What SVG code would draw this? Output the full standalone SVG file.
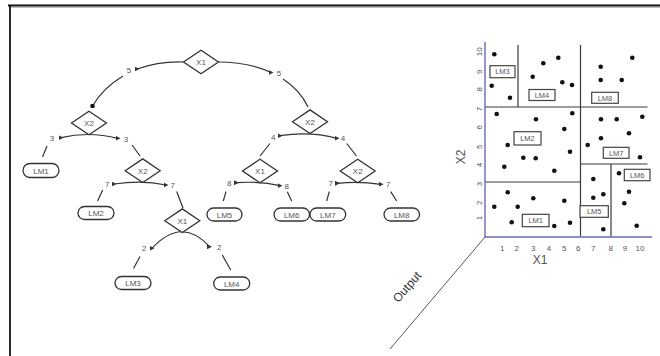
<svg xmlns="http://www.w3.org/2000/svg" width="660" height="356" viewBox="0 0 660 356">
<style>
.t{font-family:"Liberation Sans",Arial,sans-serif;fill:#555;text-anchor:middle}
.s8{font-size:8px}
.s7{font-size:7.5px}
.dia{fill:#fff;stroke:#333;stroke-width:1.3}
.leaf{fill:#fff;stroke:#333;stroke-width:1.3}
.conn{fill:none;stroke:#333;stroke-width:1.2}
.grid{fill:none;stroke:#3a3a3a;stroke-width:1.2}
.axis{fill:none;stroke:#6a6ab4;stroke-width:1.4}
.dot{fill:#111}
.lbox{fill:#fff;stroke:#444;stroke-width:1.2}
</style>
<defs>
<marker id="ar" viewBox="0 0 6 6" refX="3" refY="3" markerWidth="5" markerHeight="5" markerUnits="userSpaceOnUse" orient="0"><path d="M0,0 L6,3 L0,6 z" fill="#333"/></marker>
<marker id="dt" viewBox="0 0 6 6" refX="3" refY="3" markerWidth="4.5" markerHeight="4.5" markerUnits="userSpaceOnUse" orient="0"><circle cx="3" cy="3" r="3" fill="#111"/></marker>
<polygon id="dmd" points="-17.5,0 0,-11.8 17.5,0 0,11.8"/>
</defs>
<rect width="660" height="356" fill="#fff"/>
<g id="frame"><path d="M8,5.5 H660 M10,5 V356" fill="none" stroke="#111" stroke-width="1.8"/><path d="M11,7.5 H660" stroke="#bbb" stroke-width="1"/></g>

<g id="connectors">
<path class="conn" d="M183.5,62 Q160,61 137,69" marker-end="url(#ar)"/>
<path class="conn" d="M123,76 Q103,88 92.5,106" marker-end="url(#dt)"/>
<path class="conn" d="M218.5,62 Q248,62 271,72.5" marker-end="url(#ar)"/>
<path class="conn" d="M283,79 Q300,90 308,107"/>
<path class="conn" d="M61,137.7 Q89,131 118,138.3" marker-start="url(#ar)" marker-end="url(#ar)"/>
<path class="conn" d="M47,146 L42.5,157 M132,145 L140,156"/>
<path class="conn" d="M114,184 Q142.7,180 166,185" marker-start="url(#ar)" marker-end="url(#ar)"/>
<path class="conn" d="M102.7,190 L97.5,201 M176.7,191.5 L183,208"/>
<path class="conn" d="M152,248.3 Q182,216 209.5,246.7" marker-start="url(#ar)" marker-end="url(#ar)"/>
<path class="conn" d="M140,256.5 L133.5,268.5 M222.3,255 L230.7,270"/>
<path class="conn" d="M280,135.7 Q310,131 337,138.3" marker-start="url(#ar)" marker-end="url(#ar)"/>
<path class="conn" d="M270,143.5 L260,156 M346.7,143.5 L356.5,156"/>
<path class="conn" d="M236.5,182.7 Q260,181 280,185.7" marker-start="url(#ar)" marker-end="url(#ar)"/>
<path class="conn" d="M226,191.7 L223.3,201 M287.3,191.7 L291.7,201"/>
<path class="conn" d="M337.5,183.3 Q358,181 381,184.3" marker-start="url(#ar)" marker-end="url(#ar)"/>
<path class="conn" d="M329.3,191.7 L326.7,201 M390.7,191.7 L396.7,201"/>
</g>

<g id="edge-labels" class="t s8">
<text x="129" y="72.5">5</text><text x="279" y="76">5</text>
<text x="52" y="141.3">3</text><text x="126" y="141.7">3</text>
<text x="107.3" y="187">7</text><text x="172.7" y="188">7</text>
<text x="144.3" y="251.3">2</text><text x="219.3" y="249.7">2</text>
<text x="273.3" y="139.5">4</text><text x="343" y="141.3">4</text>
<text x="229.3" y="186.3">8</text><text x="286.7" y="188.7">8</text>
<text x="330.7" y="186.3">7</text><text x="388.3" y="187.3">7</text>
</g>

<g id="n-root"><use href="#dmd" class="dia" transform="translate(201,62)"/><text class="t s8" x="201" y="65">X1</text></g>
<g id="n-x2a"><use href="#dmd" class="dia" transform="translate(89,123)"/><text class="t s8" x="89" y="126">X2</text></g>
<g id="n-x2b"><use href="#dmd" class="dia" transform="translate(142.7,170.7)"/><text class="t s8" x="142.7" y="173.7">X2</text></g>
<g id="n-x1c"><use href="#dmd" class="dia" transform="translate(182.3,220.7)"/><text class="t s8" x="182.3" y="223.7">X1</text></g>
<g id="n-x2d"><use href="#dmd" class="dia" transform="translate(310,121.7)"/><text class="t s8" x="310" y="124.7">X2</text></g>
<g id="n-x1e"><use href="#dmd" class="dia" transform="translate(260,171)"/><text class="t s8" x="260" y="174">X1</text></g>
<g id="n-x2f"><use href="#dmd" class="dia" transform="translate(357.7,171)"/><text class="t s8" x="357.7" y="174">X2</text></g>

<g id="lm1"><rect class="leaf" x="23" y="163.5" width="36" height="14" rx="7"/><text class="t s8" x="41" y="173.5">LM1</text></g>
<g id="lm2"><rect class="leaf" x="78" y="206.5" width="36" height="13" rx="6.5"/><text class="t s8" x="96" y="216">LM2</text></g>
<g id="lm3"><rect class="leaf" x="115" y="276.5" width="36" height="13" rx="6.5"/><text class="t s8" x="133" y="286">LM3</text></g>
<g id="lm4"><rect class="leaf" x="213.7" y="277" width="36" height="13" rx="6.5"/><text class="t s8" x="231.7" y="286.5">LM4</text></g>
<g id="lm5"><rect class="leaf" x="207" y="208" width="35" height="13" rx="6.5"/><text class="t s8" x="224.5" y="217.5">LM5</text></g>
<g id="lm6"><rect class="leaf" x="274" y="208" width="35.5" height="13" rx="6.5"/><text class="t s8" x="291.7" y="217.5">LM6</text></g>
<g id="lm7"><rect class="leaf" x="310" y="208" width="35.7" height="13" rx="6.5"/><text class="t s8" x="327.8" y="217.5">LM7</text></g>
<g id="lm8"><rect class="leaf" x="384" y="208" width="35.5" height="13" rx="6.5"/><text class="t s8" x="401.7" y="217.5">LM8</text></g>

<g id="output">
<path d="M485,237 L390,349" stroke="#555" stroke-width="1" fill="none"/>
<text class="t" style="font-size:12px;fill:#333" transform="translate(407,287) rotate(-49)" y="4">Output</text>
</g>

<g id="plot">
<path class="grid" d="M518,45 V107 M580.5,45 V236.5 M485,107 H647.5 M485,182 H580.5 M580.5,164 H647.5 M611,164 V236.5"/>
<path class="axis" d="M485,42 V237 H652"/>
<g class="t s8">
<text x="502.3" y="251">1</text><text x="516.7" y="251">2</text><text x="533.3" y="251">3</text><text x="549" y="251">4</text><text x="564.3" y="251">5</text><text x="578.3" y="251">6</text><text x="593.3" y="251">7</text><text x="610.7" y="251">8</text><text x="625" y="251">9</text><text x="640" y="251">10</text>
<text transform="translate(482,218) rotate(-90)">1</text>
<text transform="translate(482,202.7) rotate(-90)">2</text>
<text transform="translate(482,184) rotate(-90)">3</text>
<text transform="translate(482,165) rotate(-90)">4</text>
<text transform="translate(482,146.7) rotate(-90)">5</text>
<text transform="translate(482,127.3) rotate(-90)">6</text>
<text transform="translate(482,109) rotate(-90)">7</text>
<text transform="translate(482,89.3) rotate(-90)">8</text>
<text transform="translate(482,71.7) rotate(-90)">9</text>
<text transform="translate(482,51.7) rotate(-90)">10</text>
</g>
<text class="t" style="font-size:12px" x="540" y="263.5">X1</text>
<text class="t" style="font-size:12px" transform="translate(464.5,157) rotate(-90)">X2</text>
<g class="dot">
<circle cx="494.3" cy="54.3" r="2.3"/><circle cx="491.7" cy="85.7" r="2.3"/><circle cx="510" cy="97.7" r="2.3"/><circle cx="558.3" cy="57.7" r="2.3"/><circle cx="543.3" cy="63.3" r="2.3"/><circle cx="532.7" cy="76.7" r="2.3"/><circle cx="562.3" cy="82.3" r="2.3"/><circle cx="572" cy="85" r="2.3"/><circle cx="600.7" cy="66.7" r="2.3"/><circle cx="600.7" cy="80" r="2.3"/><circle cx="621.7" cy="80" r="2.3"/><circle cx="632.3" cy="57.7" r="2.3"/>
<circle cx="496.7" cy="114" r="2.3"/><circle cx="536" cy="119.3" r="2.3"/><circle cx="572.3" cy="113.3" r="2.3"/><circle cx="564.3" cy="129" r="2.3"/><circle cx="507.7" cy="145" r="2.3"/><circle cx="523.3" cy="157.7" r="2.3"/><circle cx="535.7" cy="158.3" r="2.3"/><circle cx="570" cy="151.7" r="2.3"/><circle cx="504.3" cy="166.7" r="2.3"/><circle cx="554.3" cy="170.7" r="2.3"/>
<circle cx="601" cy="119.3" r="2.3"/><circle cx="616.7" cy="119.3" r="2.3"/><circle cx="642.3" cy="116.7" r="2.3"/><circle cx="629" cy="133.3" r="2.3"/><circle cx="601" cy="138.3" r="2.3"/><circle cx="587.7" cy="145" r="2.3"/><circle cx="640" cy="157.3" r="2.3"/>
<circle cx="619" cy="173.3" r="2.3"/><circle cx="629" cy="191.7" r="2.3"/><circle cx="624.3" cy="203.3" r="2.3"/><circle cx="636.7" cy="225.7" r="2.3"/>
<circle cx="593.3" cy="179" r="2.3"/><circle cx="593.3" cy="197.7" r="2.3"/><circle cx="603.3" cy="194.3" r="2.3"/><circle cx="603.3" cy="229.3" r="2.3"/>
<circle cx="507.7" cy="192.3" r="2.3"/><circle cx="494.3" cy="206.7" r="2.3"/><circle cx="517.7" cy="206.7" r="2.3"/><circle cx="533.3" cy="198.3" r="2.3"/><circle cx="564.3" cy="200.7" r="2.3"/><circle cx="511.7" cy="222.3" r="2.3"/><circle cx="554.3" cy="226" r="2.3"/><circle cx="570" cy="222.7" r="2.3"/>
</g>
<g id="p-lm3"><rect class="lbox" x="490" y="65.7" width="25" height="12"/><text class="t s7" x="502.5" y="74.3">LM3</text></g>
<g id="p-lm4"><rect class="lbox" x="529" y="89.5" width="26" height="11"/><text class="t s7" x="542" y="97.7">LM4</text></g>
<g id="p-lm8"><rect class="lbox" x="591.7" y="92.3" width="26.6" height="11"/><text class="t s7" x="605" y="100.5">LM8</text></g>
<g id="p-lm2"><rect class="lbox" x="514" y="131.7" width="27" height="13.3"/><text class="t s7" x="527.5" y="141">LM2</text></g>
<g id="p-lm7"><rect class="lbox" x="603.3" y="147.3" width="25.7" height="11"/><text class="t s7" x="616.2" y="155.5">LM7</text></g>
<g id="p-lm6"><rect class="lbox" x="624.3" y="169.3" width="25.7" height="11.4"/><text class="t s7" x="637.2" y="177.7">LM6</text></g>
<g id="p-lm5"><rect class="lbox" x="580" y="205.7" width="28.3" height="11.6"/><text class="t s7" x="594.2" y="214.2">LM5</text></g>
<g id="p-lm1"><rect class="lbox" x="522.3" y="214.3" width="26.7" height="12.4"/><text class="t s7" x="535.7" y="223.2">LM1</text></g>
</g>
</svg>
